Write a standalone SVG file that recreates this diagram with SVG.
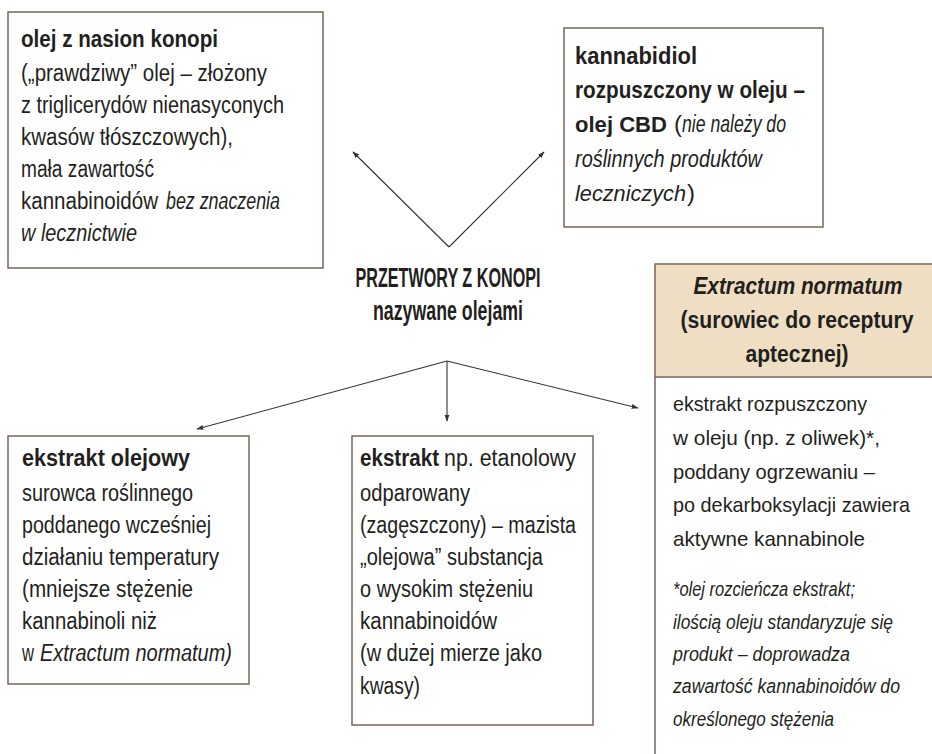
<svg xmlns="http://www.w3.org/2000/svg" width="932" height="754" viewBox="0 0 932 754">
<defs>
<marker id="ah" viewBox="0 0 10 10" refX="9" refY="5" markerWidth="7" markerHeight="7" orient="auto" markerUnits="userSpaceOnUse">
<path d="M0,1.5 L10,5 L0,8.5 z" fill="#333"/>
</marker>
<style>
.box{fill:#fff;stroke:#7a665a;stroke-width:1.5}
.hdr{fill:#eedfc4;stroke:#7a665a;stroke-width:1.5}
text{font-family:"Liberation Sans",Arial,sans-serif;fill:#231f20;font-size:23px}
.b{font-weight:bold}
.i{font-style:italic}
.big{font-size:24px}
.h{font-size:23px;font-weight:bold;text-anchor:middle}
.body3{font-size:21px}
.fn{font-size:20px;font-style:italic}
.t{font-size:27px;font-weight:bold;text-anchor:middle}
.arr{stroke:#333;stroke-width:1.1;fill:none;marker-end:url(#ah)}
</style>
</defs>
<rect width="932" height="754" fill="#fff"/>
<g id="connectors">
<line class="arr" x1="449" y1="247" x2="353" y2="152"/>
<line class="arr" x1="449" y1="247" x2="544" y2="152"/>
<line class="arr" x1="447" y1="361" x2="197" y2="429"/>
<line class="arr" x1="447" y1="361" x2="447" y2="421"/>
<line class="arr" x1="447" y1="361" x2="638" y2="408"/>
</g>
<g id="center">
<text class="t" x="448" y="287" textLength="185" lengthAdjust="spacingAndGlyphs">PRZETWORY Z KONOPI</text>
<text class="t" x="448" y="320" textLength="150" lengthAdjust="spacingAndGlyphs">nazywane olejami</text>
</g>
<g id="olej-z-nasion">
<rect class="box" x="8" y="12" width="315" height="256"/>
<text class="b" x="21" y="47" textLength="197" lengthAdjust="spacingAndGlyphs">olej z nasion konopi</text>
<text x="21" y="81" textLength="246" lengthAdjust="spacingAndGlyphs">(„prawdziwy” olej – złożony</text>
<text x="21" y="113" textLength="263" lengthAdjust="spacingAndGlyphs">z triglicerydów nienasyconych</text>
<text x="21" y="145" textLength="212" lengthAdjust="spacingAndGlyphs">kwasów tłószczowych),</text>
<text x="21" y="177" textLength="133" lengthAdjust="spacingAndGlyphs">mała zawartość</text>
<text x="21" y="209" textLength="137" lengthAdjust="spacingAndGlyphs">kannabinoidów</text>
<text class="i" x="166" y="209" textLength="114" lengthAdjust="spacingAndGlyphs">bez znaczenia</text>
<text class="i" x="21" y="241" textLength="116" lengthAdjust="spacingAndGlyphs">w lecznictwie</text>
</g>
<g id="olej-cbd">
<rect class="box" x="564" y="28" width="259" height="199"/>
<text class="b big" x="575" y="64" textLength="122" lengthAdjust="spacingAndGlyphs">kannabidiol</text>
<text class="b big" x="575" y="98" textLength="230" lengthAdjust="spacingAndGlyphs">rozpuszczony w oleju –</text>
<text class="b" style="font-size:22px" x="575" y="132" textLength="92" lengthAdjust="spacingAndGlyphs">olej CBD</text>
<text class="big" x="674" y="132">(</text>
<text class="big i" x="682" y="132" textLength="104" lengthAdjust="spacingAndGlyphs">nie należy do</text>
<text class="big i" x="575" y="167" textLength="187" lengthAdjust="spacingAndGlyphs">roślinnych produktów</text>
<text class="i" style="font-size:21.5px" x="575" y="201" textLength="111" lengthAdjust="spacingAndGlyphs">leczniczych</text>
<text class="big" x="687" y="201">)</text>
</g>
<g id="extractum-normatum">
<rect class="hdr" x="655" y="264" width="290" height="113"/>
<path d="M655,377 V760" stroke="#7a665a" stroke-width="1.5" fill="none"/>
<text class="h i" x="798" y="294" textLength="209" lengthAdjust="spacingAndGlyphs">Extractum normatum</text>
<text class="h" x="797" y="328" textLength="233" lengthAdjust="spacingAndGlyphs">(surowiec do receptury</text>
<text class="h" x="797" y="362" textLength="103" lengthAdjust="spacingAndGlyphs">aptecznej)</text>
<text class="body3" x="673" y="411" textLength="194" lengthAdjust="spacingAndGlyphs">ekstrakt rozpuszczony</text>
<text class="body3" x="673" y="445" textLength="207" lengthAdjust="spacingAndGlyphs">w oleju (np. z oliwek)*,</text>
<text class="body3" x="673" y="479" textLength="202" lengthAdjust="spacingAndGlyphs">poddany ogrzewaniu –</text>
<text class="body3" x="673" y="512" textLength="237" lengthAdjust="spacingAndGlyphs">po dekarboksylacji zawiera</text>
<text class="body3" x="673" y="546" textLength="192" lengthAdjust="spacingAndGlyphs">aktywne kannabinole</text>
<text class="fn" x="673" y="596" textLength="182" lengthAdjust="spacingAndGlyphs">*olej rozcieńcza ekstrakt;</text>
<text class="fn" x="673" y="629" textLength="220" lengthAdjust="spacingAndGlyphs">ilością oleju standaryzuje się</text>
<text class="fn" x="673" y="661" textLength="177" lengthAdjust="spacingAndGlyphs">produkt – doprowadza</text>
<text class="fn" x="673" y="693" textLength="227" lengthAdjust="spacingAndGlyphs">zawartość kannabinoidów do</text>
<text class="fn" x="673" y="726" textLength="161" lengthAdjust="spacingAndGlyphs">określonego stężenia</text>
</g>
<g id="ekstrakt-olejowy">
<rect class="box" x="8" y="436" width="241" height="248"/>
<text class="b" x="22" y="466" textLength="168" lengthAdjust="spacingAndGlyphs">ekstrakt olejowy</text>
<text x="22" y="501" textLength="171" lengthAdjust="spacingAndGlyphs">surowca roślinnego</text>
<text x="22" y="533" textLength="189" lengthAdjust="spacingAndGlyphs">poddanego wcześniej</text>
<text x="22" y="565" textLength="197" lengthAdjust="spacingAndGlyphs">działaniu temperatury</text>
<text x="22" y="597" textLength="171" lengthAdjust="spacingAndGlyphs">(mniejsze stężenie</text>
<text x="22" y="629" textLength="135" lengthAdjust="spacingAndGlyphs">kannabinoli niż</text>
<text x="22" y="661" textLength="12" lengthAdjust="spacingAndGlyphs">w</text>
<text class="i" x="40" y="661" textLength="192" lengthAdjust="spacingAndGlyphs">Extractum normatum)</text>
</g>
<g id="ekstrakt">
<rect class="box" x="352" y="436" width="241" height="289"/>
<text class="b" x="360" y="466" textLength="79" lengthAdjust="spacingAndGlyphs">ekstrakt</text>
<text x="444" y="466" textLength="132" lengthAdjust="spacingAndGlyphs">np. etanolowy</text>
<text x="360" y="501" textLength="110" lengthAdjust="spacingAndGlyphs">odparowany</text>
<text x="360" y="533" textLength="216" lengthAdjust="spacingAndGlyphs">(zagęszczony) – mazista</text>
<text x="360" y="565" textLength="183" lengthAdjust="spacingAndGlyphs">„olejowa” substancja</text>
<text x="360" y="597" textLength="173" lengthAdjust="spacingAndGlyphs">o wysokim stężeniu</text>
<text x="360" y="629" textLength="137" lengthAdjust="spacingAndGlyphs">kannabinoidów</text>
<text x="360" y="661" textLength="182" lengthAdjust="spacingAndGlyphs">(w dużej mierze jako</text>
<text x="360" y="694" textLength="60" lengthAdjust="spacingAndGlyphs">kwasy)</text>
</g>
</svg>
